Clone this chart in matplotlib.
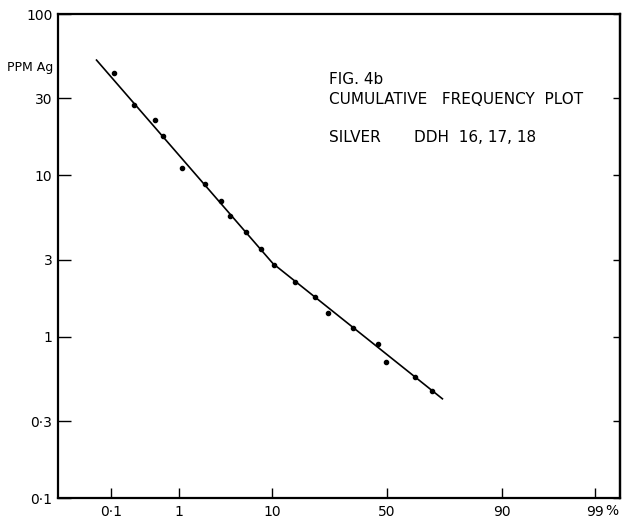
"""
Fig. 4b - cumulative frequency plot, silver, DDH 16, 17, 18
log ppm against a normal probability scale
"""

from statistics import NormalDist

import numpy as np
import matplotlib
matplotlib.use("Agg")
import matplotlib.pyplot as plt
from matplotlib.ticker import FixedLocator, FixedFormatter, NullLocator

# ── DATA ────────────────────────────────────────────────────
cum_freq_pct = [0.113, 0.235, 0.47, 0.62, 1.08, 2.09, 3.14, 3.95, 5.74, 7.94,
                10.3, 15.2, 20.9, 25.6, 35.1, 45.9, 49.7, 62.4, 69.4]
ppm_ag = [43.2, 27.3, 22.1, 17.5, 11.1, 8.86, 6.90, 5.56, 4.43, 3.50,
          2.79, 2.19, 1.76, 1.40, 1.13, 0.90, 0.70, 0.56, 0.46]

# hand-drawn two-segment fit line
fit_pct = [0.058, 10.1, 73.2]
fit_ppm = [51.8, 2.84, 0.412]

x_ticks = [0.1, 1, 10, 50, 90, 99]
x_labels = ["0·1", "1", "10", "50", "90", "99"]
y_ticks = [0.1, 0.3, 1, 3, 10, 30, 100]
y_labels = ["0·1", "0·3", "1", "3", "10", "30", "100"]

# ── probability scale ───────────────────────────────────────
_nd = NormalDist()
_ppf = np.vectorize(_nd.inv_cdf, otypes=[float])
_cdf = np.vectorize(_nd.cdf, otypes=[float])


def prob_fwd(p):
    p = np.clip(np.asarray(p, dtype=float) / 100.0, 1e-9, 1 - 1e-9)
    return _ppf(p)


def prob_inv(z):
    return _cdf(np.asarray(z, dtype=float)) * 100.0


# ── PLOT ────────────────────────────────────────────────────
W, H = 626, 523
fig = plt.figure(figsize=(W / 100, H / 100), dpi=100)
ax = fig.add_axes([58 / W, 1 - 498 / H, 562 / W, 484 / H])

ax.set_xscale("function", functions=(prob_fwd, prob_inv))
ax.set_yscale("log")
ax.set_xlim(0.0117, 99.54)
ax.set_ylim(0.1, 100)

ax.plot(fit_pct, fit_ppm, color="black", linewidth=1.2)
ax.plot(cum_freq_pct, ppm_ag, "o", color="black", markersize=3.0)

ax.xaxis.set_major_locator(FixedLocator(x_ticks))
ax.xaxis.set_major_formatter(FixedFormatter(x_labels))
ax.xaxis.set_minor_locator(NullLocator())
ax.yaxis.set_major_locator(FixedLocator(y_ticks))
ax.yaxis.set_major_formatter(FixedFormatter(y_labels))
ax.yaxis.set_minor_locator(NullLocator())

ax.tick_params(axis="x", direction="in", length=7, width=1.0, pad=5,
               labelsize=10, top=False)
ax.tick_params(axis="y", direction="in", length=9, width=1.0, pad=4,
               labelsize=10, right=False)

# shorter ticks on the right side
sec = ax.secondary_yaxis("right")
sec.yaxis.set_major_locator(FixedLocator(y_ticks))
sec.yaxis.set_minor_locator(NullLocator())
sec.tick_params(direction="in", length=5, width=1.0, labelright=False)
sec.spines["right"].set_linewidth(1.6)

for side in ["left", "bottom", "top", "right"]:
    ax.spines[side].set_linewidth(1.6)

# axis annotations
fig.text(53 / W, 1 - 67 / H, "PPM Ag", ha="right", va="center", fontsize=9)
fig.text(612 / W, 1 - 511 / H, "%", ha="center", va="center", fontsize=10)

# title block
t_mid = fig.text(583 / W, 1 - 100 / H, "CUMULATIVE   FREQUENCY  PLOT",
                 ha="right", va="center", fontsize=11)
fig.canvas.draw()
x0 = t_mid.get_window_extent().x0 / W
fig.text(x0, 1 - 79 / H, "FIG. 4b", ha="left", va="center", fontsize=11)
fig.text(x0, 1 - 138 / H, "SILVER", ha="left", va="center", fontsize=11)
fig.text(414 / W, 1 - 138 / H, "DDH  16, 17, 18", ha="left", va="center",
         fontsize=11)

fig.savefig("out.png", dpi=100)
plt.close(fig)
